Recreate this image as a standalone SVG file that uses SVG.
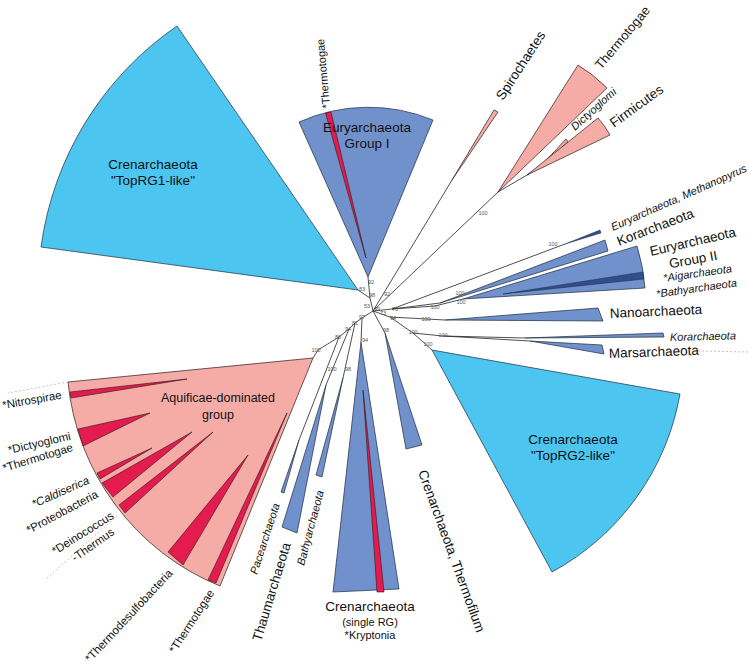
<svg xmlns="http://www.w3.org/2000/svg" width="749" height="664" viewBox="0 0 749 664">
<style>
text{font-family:"Liberation Sans",Arial,sans-serif;fill:#111}
.L{font-size:13.5px}
.S{font-size:11px}
.M{font-size:11.5px}
.i{font-style:italic}
.b{font-size:5.5px;fill:#555;text-anchor:middle}
.c{text-anchor:middle}
.lb{fill:#4cc6f0;stroke:#1d2d3a;stroke-width:0.7}
.mb{fill:#7191cc;stroke:#1d2d3a;stroke-width:0.7}
.db{fill:#2f4f8f;stroke:#1d2d3a;stroke-width:0.5}
.pk{fill:#f5aca7;stroke:#2a1a1a;stroke-width:0.7}
.cr{fill:#e31b4f;stroke:#2a1a1a;stroke-width:0.6}
.ln{fill:none;stroke:#222;stroke-width:0.8}
.da{fill:none;stroke:#aaa;stroke-width:0.7;stroke-dasharray:2 2}
</style>
<rect width="749" height="664" fill="#fff"/>
<g id="connectors" class="ln">
<path d="M373,311 L370,298 L368,277 M370,298 L358,290"/>
<path d="M373,311 L452,180"/>
<path d="M375,309 L498,192 L527,175 L541,166"/>
<path d="M373,311 L392,309 L565,244 M392,309 L440,303 M392,309 L435,306 L463,299"/>
<path d="M373,311 L390,317 L445,320 M390,317 L413,333 L432,350 M413,333 L443,336 L525,338 M443,336 L530,341"/>
<path d="M373,311 L385,333"/>
<path d="M373,311 L362,318 L355,323 L349,329 L339,337 L318,350 L313,358"/>
<path d="M362,318 L361,342 M355,323 L343,378 M349,329 L326,385 M339,337 L299,440"/>
</g>
<g id="topRG1">
<path class="lb" d="M358,290 L41,247 A320,320 0 0 1 177,26 Z"/>
<text class="L c" x="153" y="169">Crenarchaeota</text>
<text class="L c" x="153" y="185">"TopRG1-like"</text>
</g>
<g id="euryI">
<path class="mb" d="M368,277 L299,122 A170,170 0 0 1 433,120 Z"/>
<path class="cr" d="M325.5,113 L331,112 L366,258 Z"/>
<text class="L c" x="367" y="132">Euryarchaeota</text>
<text class="L c" x="367" y="148">Group I</text>
<text class="S" transform="translate(330,108) rotate(-95)">*Thermotogae</text>
</g>
<g id="spirochaetes">
<path class="pk" d="M452,180 L494,110 L498,112 Z"/>
<text class="L" transform="translate(503,101) rotate(-57)">Spirochaetes</text>
</g>
<g id="thermotogae">
<path class="pk" d="M498,192 L578,65 A150,150 0 0 1 607,88 Z"/>
<text class="L" transform="translate(601,70) rotate(-50)" style="font-size:13px">Thermotogae</text>
</g>
<g id="dictyoglomi">
<path class="pk" d="M541,166 L566,139 L568,142 Z"/>
<text class="S i" transform="translate(575,131) rotate(-42)">Dictyoglomi</text>
</g>
<g id="firmicutes">
<path class="pk" d="M527,175 L598,118 A91,91 0 0 1 610,135 Z"/>
<text class="L" transform="translate(614,128) rotate(-36)">Firmicutes</text>
</g>
<g id="methanopyrus">
<path class="db" d="M565,244 L600,230 L601,233 Z"/>
<text class="S i" transform="translate(613,231) rotate(-24)">Euryarchaeota, Methanopyrus</text>
</g>
<g id="korarchaeota1">
<path class="mb" d="M440,303 L605,240 L608,251 Z"/>
<text class="L" transform="translate(619,246) rotate(-21)">Korarchaeota</text>
</g>
<g id="euryII">
<path class="mb" d="M463,299 L637,246 A182,182 0 0 1 645,288 Z"/>
<path class="db" d="M503,294 L643,272 L644,279 Z"/>
<text class="L" transform="translate(651,256) rotate(-13)">Euryarchaeota</text>
<text class="L c" transform="translate(694,264) rotate(-10)">Group II</text>
<text class="S i c" transform="translate(698,277) rotate(-8)">*Aigarchaeota</text>
<text class="S i c" transform="translate(697,292) rotate(-8)">*Bathyarchaeota</text>
</g>
<g id="nanoarchaeota">
<path class="mb" d="M445,320 L598,308 L603,321 Z"/>
<text class="L" transform="translate(610,318) rotate(-2.5)">Nanoarchaeota</text>
</g>
<g id="korarchaeota2">
<path class="mb" d="M525,338 L663,333 L664,337 Z"/>
<text class="S i" transform="translate(670,341) rotate(-1.5)">Korarchaeota</text>
</g>
<g id="marsarchaeota">
<path class="mb" d="M530,341 L602,345 L604,354 Z"/>
<text class="L" transform="translate(609,358) rotate(-2)">Marsarchaeota</text>
<path class="da" d="M698,351 L749,352"/>
</g>
<g id="topRG2">
<path class="lb" d="M432,350 L680,394 A252,252 0 0 1 552,572 Z"/>
<text class="L c" x="573" y="444">Crenarchaeota</text>
<text class="L c" x="573" y="460">"TopRG2-like"</text>
</g>
<g id="thermofilum">
<path class="mb" d="M385,333 L406,449 L422,445 Z"/>
<text class="L" transform="translate(418,472) rotate(70)">Crenarchaeota, Thermofilum</text>
</g>
<g id="crenSingle">
<path class="mb" d="M361,342 L333,592 L399,589 Z"/>
<path class="cr" d="M363,390 L377,592 L384,592 Z"/>
<text class="L c" x="370" y="611">Crenarchaeota</text>
<text class="S c" x="370" y="626">(single RG)</text>
<text class="S c" x="370" y="639">*Kryptonia</text>
</g>
<g id="bathyarchaeota">
<path class="mb" d="M343,378 L316,475 L322,477 Z"/>
<text class="S i" transform="translate(304,566) rotate(-75)">Bathyarchaeota</text>
</g>
<g id="thaumarchaeota">
<path class="mb" d="M326,385 L282,527 L297,533 Z"/>
<text class="L" transform="translate(261,642) rotate(-73)">Thaumarchaeota</text>
</g>
<g id="pacearchaeota">
<path class="mb" d="M299,440 L281,492 L284,493 Z"/>
<text class="S i" transform="translate(257,575) rotate(-72)">Pacearchaeota</text>
</g>
<g id="aquificae">
<path class="pk" d="M313,358 L68,382 A246,246 0 0 0 220,586 Z"/>
<path class="cr" d="M187,379 L70,392 L71,398 Z"/>
<path class="cr" d="M150,413 L78,429 L83,446 Z"/>
<path class="cr" d="M152,448 L97,473 L100,479 Z"/>
<path class="cr" d="M192,432 L102,483 L113,497 Z"/>
<path class="cr" d="M213,432 L119,505 L125,513 Z"/>
<path class="cr" d="M248,455 L168,552 L183,565 Z"/>
<path class="cr" d="M287,413 L208,580 L216,583 Z"/>
<text class="L c" x="218" y="402" style="font-size:12.5px">Aquificae-dominated</text>
<text class="L c" x="218" y="419" style="font-size:12.5px">group</text>
<path class="da" d="M68,382 L8,393 M117,516 L46,579"/>
<text class="M" transform="translate(3,409) rotate(-10)">*Nitrospirae</text>
<text class="M" transform="translate(9,454) rotate(-13)">*Dictyoglomi</text>
<text class="M" transform="translate(4,472) rotate(-17)">*Thermotogae</text>
<text class="M i" transform="translate(34,508) rotate(-24)">*Caldiserica</text>
<text class="M" transform="translate(29,534) rotate(-28)">*Proteobacteria</text>
<text class="M" transform="translate(55,555) rotate(-32)">*Deinococcus</text>
<text class="M" transform="translate(75,562) rotate(-35)">-Thermus</text>
<text class="M" transform="translate(90,663) rotate(-47)">*Thermodesulfobacteria</text>
<text class="M" transform="translate(175,654) rotate(-57)">*Thermotogae</text>
</g>
<g id="bootstrap">
<text class="b" x="371" y="284">92</text>
<text class="b" x="372" y="297">98</text>
<text class="b" x="362" y="291">83</text>
<text class="b" x="387" y="296">92</text>
<text class="b" x="367" y="308">53</text>
<text class="b" x="377" y="311">99</text>
<text class="b" x="383" y="315">73</text>
<text class="b" x="395" y="311">73</text>
<text class="b" x="393" y="320">94</text>
<text class="b" x="460" y="295">100</text>
<text class="b" x="435" y="309">100</text>
<text class="b" x="461" y="304">100</text>
<text class="b" x="553" y="246">100</text>
<text class="b" x="483" y="215">100</text>
<text class="b" x="426" y="321">100</text>
<text class="b" x="413" y="334">100</text>
<text class="b" x="443" y="337">100</text>
<text class="b" x="428" y="346">100</text>
<text class="b" x="362" y="319">97</text>
<text class="b" x="355" y="325">81</text>
<text class="b" x="348" y="331">94</text>
<text class="b" x="338" y="339">80</text>
<text class="b" x="316" y="352">100</text>
<text class="b" x="365" y="342">94</text>
<text class="b" x="386" y="332">98</text>
<text class="b" x="332" y="371">100</text>
<text class="b" x="348" y="371">98</text>
</g>
</svg>
